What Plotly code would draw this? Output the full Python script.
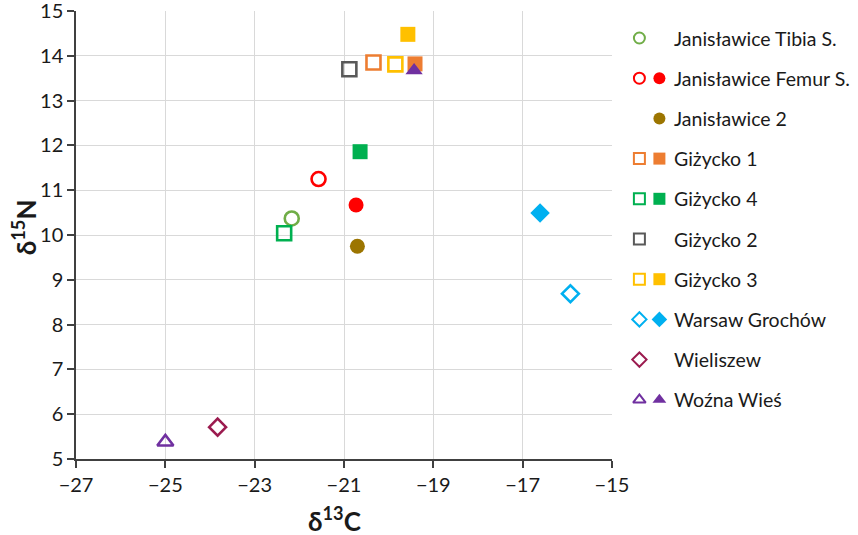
import plotly.graph_objects as go

# Datos (delta13C, delta15N)
groups = ["Janisławice Tibia S.", "Janisławice Femur S.", "Janisławice 2",
          "Giżycko 1", "Giżycko 4", "Giżycko 2", "Giżycko 3",
          "Warsaw Grochów", "Wieliszew", "Woźna Wieś"]
colors = ["#70AD47", "#FF0000", "#9C7500", "#ED7D31", "#00B050",
          "#595959", "#FFC000", "#00B0F0", "#9B1B4F", "#7030A0"]
symbols = ["circle", "circle", "circle", "square", "square",
           "square", "square", "diamond", "diamond", "triangle-up"]

# puntos huecos (None = no hay)
open_c = [-22.17, -21.57, None, -20.34, -22.34, -20.88, -19.85, -15.93, -23.83, -25.0]
open_n = [10.37, 11.25, None, 13.85, 10.04, 13.70, 13.81, 8.69, 5.71, 5.38]
# puntos rellenos
filled_c = [None, -20.73, -20.70, -19.41, -20.64, None, -19.57, -16.61, None, -19.43]
filled_n = [None, 10.67, 9.75, 13.82, 11.86, None, 14.48, 10.49, None, 13.67]

x_ticks = [-27, -25, -23, -21, -19, -17, -15]
y_ticks = [5, 6, 7, 8, 9, 10, 11, 12, 13, 14, 15]

font = "Lato"
fig = go.Figure()

# Datos
for i, name in enumerate(groups):
    if open_c[i] is not None:
        fig.add_trace(go.Scatter(
            x=[open_c[i]], y=[open_n[i]], mode="markers", name=name,
            marker=dict(symbol=symbols[i] + "-open", size=14 if symbols[i] != "diamond" else 13,
                        color=colors[i], line=dict(width=2.6, color=colors[i])),
            showlegend=False))
    if filled_c[i] is not None:
        fig.add_trace(go.Scatter(
            x=[filled_c[i]], y=[filled_n[i]], mode="markers", name=name,
            marker=dict(symbol=symbols[i], size=15,
                        color=colors[i], line=dict(width=0)),
            showlegend=False))

# Leyenda hecha a mano (dos simbolos por fila)
row_y = [27 + 40.2 * i for i in range(len(groups))]
for i, name in enumerate(groups):
    if open_c[i] is not None:
        fig.add_trace(go.Scatter(
            x=[23.5], y=[row_y[i]], mode="markers", xaxis="x2", yaxis="y2",
            marker=dict(symbol=symbols[i] + "-open", size=11, color=colors[i],
                        line=dict(width=2, color=colors[i])),
            showlegend=False, hoverinfo="skip"))
    if filled_c[i] is not None:
        fig.add_trace(go.Scatter(
            x=[43.5], y=[row_y[i]], mode="markers", xaxis="x2", yaxis="y2",
            marker=dict(symbol=symbols[i], size=12, color=colors[i]),
            showlegend=False, hoverinfo="skip"))
    fig.add_annotation(x=56, y=row_y[i], xref="x2", yref="y2", text=name,
                       showarrow=False, xanchor="left", yanchor="middle",
                       font=dict(family=font, size=19.5, color="#1a1a1a"))

# Titulos de ejes
fig.add_annotation(x=0.332, y=-0.134, xref="paper", yref="paper",
                   text="<b>δ<sup>13</sup>C</b>", showarrow=False,
                   xanchor="center", yanchor="middle", font=dict(family=font, size=26))
fig.add_annotation(x=-0.065, y=0.518, xref="paper", yref="paper",
                   text="<b>δ<sup>15</sup>N</b>", showarrow=False, textangle=-90,
                   xanchor="center", yanchor="middle", font=dict(family=font, size=26))

axis_style = dict(showgrid=True, gridcolor="#D9D9D9", gridwidth=1,
                  showline=True, linecolor="#404040", linewidth=1.5,
                  ticks="outside", ticklen=7, tickcolor="#404040", tickwidth=1.5,
                  zeroline=False, automargin=False, ticklabeloverflow="allow",
                  tickfont=dict(family=font, size=20, color="#1a1a1a"))

fig.update_layout(
    width=858, height=535,
    margin=dict(l=76, r=2, t=11, b=76, autoexpand=False),
    plot_bgcolor="white", paper_bgcolor="white",
    font=dict(family=font, size=20, color="#1a1a1a"),
    xaxis=dict(domain=[0, 536 / 780], range=[-27.001, -14.999], tickvals=x_ticks, **axis_style),
    yaxis=dict(range=[4.999, 15.001], tickvals=y_ticks, **axis_style),
    xaxis2=dict(domain=[536 / 780 + 0.005, 1.0], range=[0, 240.1],
                visible=False, anchor="y2"),
    yaxis2=dict(domain=[0, 1], range=[448, 0], visible=False, anchor="x2"),
)

# quitar el margen de 8 px del body y la barra de herramientas
fig.write_html("out.html", config={"displayModeBar": False},
               post_script="document.body.style.margin='0';")
